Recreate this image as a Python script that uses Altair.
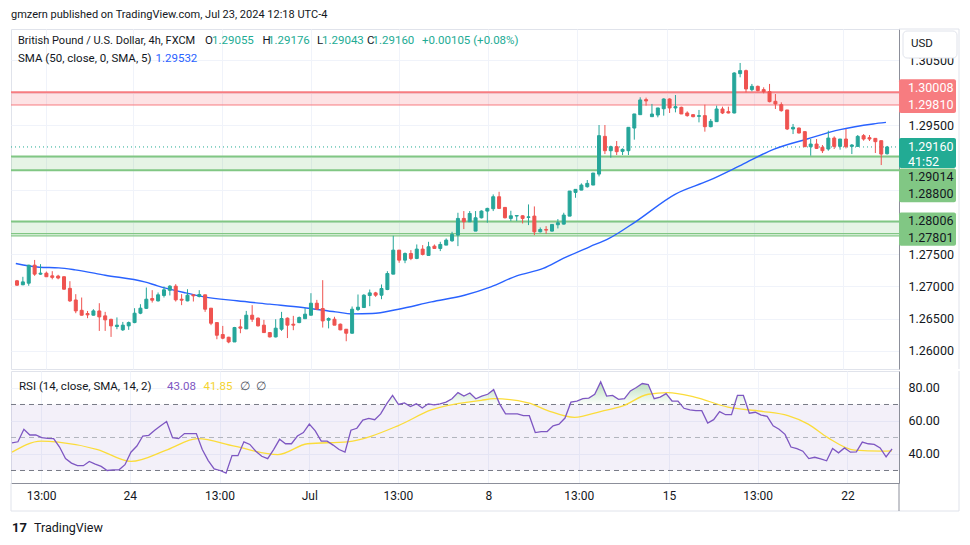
import altair as alt
import pandas as pd

# ---------------- data ----------------
OPEN = [1.27087, 1.27025, 1.27050, 1.27329, 1.27190, 1.27205, 1.27164, 1.27160, 1.27150, 1.26970,
        1.26790, 1.26630, 1.26580, 1.26554, 1.26620, 1.26544, 1.26490, 1.26379, 1.26327, 1.26389,
        1.26440, 1.26585, 1.26660, 1.26812, 1.26776, 1.26860, 1.26940, 1.27004, 1.26802, 1.26776,
        1.26870, 1.26844, 1.26870, 1.26663, 1.26440, 1.26255, 1.26213, 1.26140, 1.26373, 1.26342,
        1.26554, 1.26508, 1.26400, 1.26285, 1.26218, 1.26337, 1.26508, 1.26415, 1.26440, 1.26500,
        1.26554, 1.26740, 1.26658, 1.26477, 1.26492, 1.26415, 1.26337, 1.26275, 1.26642, 1.26673,
        1.26859, 1.26900, 1.26864, 1.26952, 1.27190, 1.27562, 1.27407, 1.27510, 1.27433, 1.27578,
        1.27480, 1.27624, 1.27588, 1.27640, 1.27707, 1.27795, 1.28053, 1.28001, 1.27857, 1.28063,
        1.28167, 1.28203, 1.28389, 1.28224, 1.28053, 1.28090, 1.28094, 1.28068, 1.28089, 1.27846,
        1.27882, 1.27857, 1.27955, 1.27965, 1.28089, 1.28456, 1.28492, 1.28544, 1.28570, 1.28740,
        1.29324, 1.29102, 1.29164, 1.29092, 1.29102, 1.29453, 1.29660, 1.29893, 1.29629, 1.29655,
        1.29752, 1.29903, 1.29764, 1.29774, 1.29686, 1.29660, 1.29634, 1.29645, 1.29474, 1.29552,
        1.29748, 1.29707, 1.29686, 1.30296, 1.30342, 1.30048, 1.30099, 1.30048, 1.30017, 1.29867,
        1.29815, 1.29733, 1.29438, 1.29453, 1.29397, 1.29164, 1.29205, 1.29154, 1.29128, 1.29298,
        1.29169, 1.29283, 1.29169, 1.29169, 1.29335, 1.29304, 1.29293, 1.29257, 1.29055]
HIGH = [1.27100, 1.27149, 1.27335, 1.27410, 1.27345, 1.27230, 1.27236, 1.27180, 1.27155, 1.27081,
        1.26880, 1.26828, 1.26620, 1.26647, 1.26740, 1.26606, 1.26500, 1.26520, 1.26450, 1.26456,
        1.26663, 1.26725, 1.26983, 1.26942, 1.26906, 1.26999, 1.27020, 1.27035, 1.26880, 1.26957,
        1.26875, 1.26942, 1.26870, 1.26663, 1.26440, 1.26388, 1.26220, 1.26373, 1.26492, 1.26621,
        1.26710, 1.26520, 1.26482, 1.26290, 1.26492, 1.26606, 1.26520, 1.26544, 1.26534, 1.26663,
        1.26895, 1.26792, 1.27097, 1.26520, 1.26530, 1.26425, 1.26340, 1.26689, 1.26875, 1.26880,
        1.26952, 1.26916, 1.27030, 1.27236, 1.27784, 1.27562, 1.27526, 1.27562, 1.27650, 1.27640,
        1.27691, 1.27650, 1.27691, 1.27743, 1.27846, 1.28141, 1.28167, 1.28167, 1.28167, 1.28178,
        1.28219, 1.28425, 1.28466, 1.28224, 1.28172, 1.28100, 1.28100, 1.28270, 1.28239, 1.27913,
        1.27934, 1.27960, 1.28043, 1.28141, 1.28477, 1.28503, 1.28596, 1.28648, 1.28756, 1.29500,
        1.29500, 1.29180, 1.29252, 1.29138, 1.29464, 1.29671, 1.29929, 1.29924, 1.29826, 1.29764,
        1.29913, 1.29913, 1.29965, 1.29784, 1.29712, 1.29665, 1.29733, 1.29815, 1.29593, 1.29800,
        1.29784, 1.29784, 1.30317, 1.30461, 1.30358, 1.30136, 1.30110, 1.30084, 1.30136, 1.29980,
        1.29851, 1.29733, 1.29516, 1.29460, 1.29400, 1.29283, 1.29283, 1.29190, 1.29412, 1.29324,
        1.29283, 1.29438, 1.29205, 1.29345, 1.29360, 1.29345, 1.29293, 1.29257, 1.29176]
LOW = [1.27010, 1.27020, 1.27010, 1.27164, 1.27180, 1.27150, 1.27110, 1.27110, 1.26950, 1.26760,
       1.26585, 1.26550, 1.26508, 1.26550, 1.26311, 1.26311, 1.26218, 1.26337, 1.26310, 1.26327,
       1.26430, 1.26570, 1.26650, 1.26750, 1.26766, 1.26828, 1.26860, 1.26766, 1.26710, 1.26770,
       1.26766, 1.26830, 1.26606, 1.26400, 1.26182, 1.26182, 1.26120, 1.26140, 1.26275, 1.26340,
       1.26450, 1.26380, 1.26280, 1.26210, 1.26210, 1.26311, 1.26200, 1.26322, 1.26430, 1.26500,
       1.26550, 1.26640, 1.26363, 1.26350, 1.26400, 1.26322, 1.26151, 1.26270, 1.26620, 1.26670,
       1.26694, 1.26838, 1.26802, 1.26942, 1.27190, 1.27366, 1.27360, 1.27407, 1.27422, 1.27480,
       1.27480, 1.27588, 1.27547, 1.27640, 1.27691, 1.27624, 1.27888, 1.28000, 1.27857, 1.28053,
       1.27987, 1.28167, 1.28198, 1.28053, 1.28012, 1.28012, 1.27975, 1.27950, 1.27795, 1.27836,
       1.27815, 1.27850, 1.27898, 1.27960, 1.28089, 1.28373, 1.28490, 1.28530, 1.28570, 1.28704,
       1.29050, 1.28994, 1.29035, 1.29035, 1.29035, 1.29273, 1.29660, 1.29800, 1.29629, 1.29619,
       1.29645, 1.29686, 1.29696, 1.29670, 1.29629, 1.29619, 1.29541, 1.29397, 1.29464, 1.29550,
       1.29670, 1.29680, 1.29680, 1.30239, 1.30006, 1.30022, 1.30022, 1.29990, 1.29851, 1.29748,
       1.29707, 1.29422, 1.29360, 1.29370, 1.29160, 1.29025, 1.29128, 1.29066, 1.29102, 1.29128,
       1.29118, 1.29138, 1.29050, 1.29164, 1.29257, 1.29252, 1.29066, 1.28880, 1.29043]
CLOSE = [1.27019, 1.27070, 1.27329, 1.27190, 1.27205, 1.27150, 1.27140, 1.27130, 1.26957, 1.26776,
         1.26621, 1.26554, 1.26560, 1.26621, 1.26528, 1.26482, 1.26389, 1.26400, 1.26400, 1.26440,
         1.26585, 1.26663, 1.26802, 1.26787, 1.26870, 1.26947, 1.27004, 1.26792, 1.26787, 1.26864,
         1.26854, 1.26875, 1.26647, 1.26430, 1.26244, 1.26198, 1.26140, 1.26363, 1.26353, 1.26554,
         1.26492, 1.26389, 1.26285, 1.26218, 1.26353, 1.26503, 1.26400, 1.26400, 1.26518, 1.26570,
         1.26740, 1.26647, 1.26466, 1.26503, 1.26400, 1.26327, 1.26275, 1.26647, 1.26678, 1.26864,
         1.26900, 1.26864, 1.26968, 1.27200, 1.27562, 1.27407, 1.27510, 1.27433, 1.27578, 1.27495,
         1.27614, 1.27588, 1.27650, 1.27717, 1.27805, 1.28053, 1.28001, 1.28130, 1.28063, 1.28167,
         1.28208, 1.28389, 1.28208, 1.28063, 1.28094, 1.28098, 1.28053, 1.28078, 1.27846, 1.27882,
         1.27872, 1.27960, 1.27986, 1.28105, 1.28477, 1.28503, 1.28570, 1.28596, 1.28756, 1.29335,
         1.29102, 1.29164, 1.29087, 1.29123, 1.29464, 1.29671, 1.29888, 1.29873, 1.29670, 1.29764,
         1.29903, 1.29764, 1.29784, 1.29671, 1.29645, 1.29629, 1.29645, 1.29474, 1.29557, 1.29748,
         1.29686, 1.29686, 1.30306, 1.30342, 1.30058, 1.30099, 1.30032, 1.30017, 1.29862, 1.29826,
         1.29722, 1.29438, 1.29464, 1.29376, 1.29164, 1.29205, 1.29138, 1.29102, 1.29298, 1.29169,
         1.29283, 1.29164, 1.29190, 1.29324, 1.29283, 1.29283, 1.29242, 1.29050, 1.29160]

SMA_IDX = [0.8, 4.8, 8.1, 10.9, 16, 22.7, 24.9, 29.4, 32.8, 38.4, 44, 49.6, 55.2, 58, 61.4, 65.9,
           71.5, 77.1, 81.6, 86, 90.5, 93.9, 98.4, 101.7, 106.2, 113, 118.6, 124.2, 129.8, 135.4,
           141, 146.6, 148.8]
SMA = [1.27355, 1.27298, 1.27288, 1.27257, 1.27174, 1.27071, 1.27009, 1.26906, 1.26839, 1.26777,
       1.26725, 1.26673, 1.26606, 1.26575, 1.26580, 1.26647, 1.26761, 1.26864, 1.26994, 1.27164,
       1.27278, 1.27433, 1.27614, 1.27743, 1.28001, 1.28430, 1.28637, 1.28880, 1.29128, 1.29283,
       1.29428, 1.29516, 1.29540]

RSI = [46.8, 47.4, 55.0, 51.5, 51.5, 49.9, 49.5, 49.3, 44.2, 37.2,
       34.5, 32.9, 32.9, 35.5, 33.9, 32.5, 30.0, 30.4, 30.4, 33.5,
       41.1, 44.8, 50.9, 51.3, 54.4, 57.1, 59.7, 49.9, 49.3, 52.4,
       52.4, 52.4, 42.7, 36.0, 31.0, 30.0, 28.4, 39.0, 39.0, 47.4,
       45.8, 41.7, 38.6, 37.2, 42.7, 48.9, 46.2, 46.2, 50.9, 53.0,
       58.1, 54.0, 47.8, 47.8, 45.4, 42.7, 41.1, 54.4, 55.6, 60.6,
       61.6, 60.8, 64.3, 70.4, 75.5, 70.0, 71.0, 68.8, 70.4, 67.9,
       70.4, 69.8, 70.4, 71.4, 73.5, 77.2, 75.1, 77.0, 73.5, 75.1,
       76.2, 79.0, 70.4, 64.3, 64.3, 64.3, 63.2, 63.2, 53.0, 53.6,
       53.6, 57.1, 58.1, 61.8, 71.4, 72.1, 73.5, 73.9, 76.2, 83.7,
       75.1, 75.5, 73.1, 73.5, 78.2, 80.3, 82.7, 82.1, 73.5, 74.5,
       76.6, 72.1, 72.1, 67.7, 66.7, 66.3, 66.3, 58.7, 60.8, 65.7,
       63.8, 63.8, 75.5, 75.5, 64.7, 65.3, 63.6, 62.8, 57.1, 55.0,
       51.9, 44.2, 43.3, 41.7, 37.2, 38.0, 37.0, 35.9, 43.3, 40.7,
       43.7, 41.1, 41.3, 47.2, 46.2, 45.8, 43.7, 38.2, 43.08]

RSI_MA_IDX = [1, 5.9, 8.8, 15.4, 21, 27.2, 32.2, 38.4, 45.7, 50.7, 57.4, 65.9, 71.5, 79.9, 82.1,
              87.8, 91.1, 95.6, 100.1, 103.5, 108, 111.3, 115.8, 121.4, 127, 131.5, 134.9, 138.2,
              142.7, 147.2, 149]
RSI_MA = [41.1, 47.8, 47.2, 42.7, 35.5, 42.7, 49.3, 44.8, 39.6, 46.2, 47.4, 57.1, 66.7, 72.5, 73.5,
          71.0, 66.3, 62.2, 65.9, 68.8, 76.2, 77.2, 74.5, 68.4, 65.9, 63.2, 58.1, 49.9,
          42.3, 41.7, 41.85]

ZONE_LO = [1.29810, 1.28800, 1.27801]
ZONE_HI = [1.30008, 1.29014, 1.28006]
ZONE_KIND = ["red", "green", "green"]
EXTRA_LINES = [1.27818, 1.27784]
LAST_PRICE = 1.29160

TICK_POS = [5.9, 20.8, 35.9, 51.0, 65.9, 81.1, 96.3, 111.5, 126.4, 141.5]
TICK_LABELS = ["13:00", "24", "13:00", "Jul", "13:00", "8", "13:00", "15", "13:00", "22"]
PRICE_TICKS = [1.26, 1.265, 1.27, 1.275, 1.28, 1.285, 1.29, 1.295, 1.30, 1.305]
RSI_TICKS = [40, 60, 80]
RSI_BANDS = [30, 50, 70]

# ---------------- layout / style ----------------
W = 888
H_MAIN = 340
H_RSI = 112
AX_W = 60
X_DOM = [0.832, 150.17]
Y_DOM = [1.25721, 1.30987]
R_DOM = [22.42, 90.3]
PPU = H_MAIN / (Y_DOM[1] - Y_DOM[0])

FONT = "Roboto"
UP = "#26a69a"
DOWN = "#ef5350"
GRID = "#f0f3fa"
FRAME = "#e0e3eb"
AXIS_LINE = "#8c8f9a"
TEXT = "#131722"
VAL = "#22ab94"
RED_LINE = "#f77c80"
GREEN_LINE = "#81c784"


def shift(p, px):
    return p - px / PPU


one = pd.DataFrame({"a": [0]})


def txt(x, y, s, color=TEXT, size=11.5, align="left", weight="normal", font=FONT):
    return alt.Chart(one).mark_text(
        align=align, baseline="middle", fontSize=size, font=font, fontWeight=weight, color=color
    ).encode(x=alt.value(x), y=alt.value(y), text=alt.value(s))


def hline(x1, x2, y, color=FRAME, w=1):
    return alt.Chart(one).mark_rule(color=color, strokeWidth=w).encode(
        x=alt.value(x1), x2=alt.value(x2), y=alt.value(y))


def vline(x, y1, y2, color=FRAME, w=1):
    return alt.Chart(one).mark_rule(color=color, strokeWidth=w).encode(
        x=alt.value(x), y=alt.value(y1), y2=alt.value(y2))


xs = alt.Scale(domain=X_DOM, nice=False, zero=False)
x_main_axis = alt.Axis(values=TICK_POS, labels=False, ticks=False, domain=False, grid=True,
                       gridColor=GRID, title=None)
ys = alt.Scale(domain=Y_DOM, nice=False, zero=False)
y_axis = alt.Axis(orient="right", values=PRICE_TICKS, format=".5f", grid=True, gridColor=GRID,
                  ticks=False, domain=True, domainColor=AXIS_LINE, labelPadding=9,
                  labelFontSize=12.5, labelColor=TEXT, labelFont=FONT, title=None)


def XM(f):
    return alt.X(f, type="quantitative", scale=xs, axis=x_main_axis)


def YM(f):
    return alt.Y(f, type="quantitative", scale=ys, axis=y_axis)


candles = pd.DataFrame({"i": list(range(1, len(OPEN) + 1)), "o": OPEN, "h": HIGH,
                        "l": LOW, "c": CLOSE})
candles["col"] = [UP if c >= o else DOWN for o, c in zip(OPEN, CLOSE)]

zones = pd.DataFrame({"lo": ZONE_LO, "hi": ZONE_HI})
zones["col"] = ["#f23645" if k == "red" else "#4caf50" for k in ZONE_KIND]
zone_rect = alt.Chart(zones).mark_rect(opacity=0.14).encode(
    x=alt.value(0), x2=alt.value(W), y=YM("lo"), y2="hi", color=alt.Color("col:N", scale=None))

lp = [ZONE_HI[0], ZONE_LO[0], ZONE_HI[1], ZONE_LO[1], ZONE_HI[2]] + EXTRA_LINES
lw = [2, 1, 2, 2, 2, 1.2, 1.2]
lc = [RED_LINE, RED_LINE, GREEN_LINE, GREEN_LINE, GREEN_LINE, GREEN_LINE, GREEN_LINE]
zl = pd.DataFrame({"p": lp, "w": lw, "col": lc})
zone_lines = alt.Chart(zl).mark_rule().encode(
    x=alt.value(0), x2=alt.value(W), y=YM("p"),
    color=alt.Color("col:N", scale=None), strokeWidth=alt.StrokeWidth("w:Q", scale=None))

last_line = alt.Chart(pd.DataFrame({"p": [LAST_PRICE]})).mark_rule(
    color=VAL, strokeDash=[1, 3], strokeWidth=1).encode(x=alt.value(0), x2=alt.value(W), y=YM("p"))

sma_line = alt.Chart(pd.DataFrame({"i": SMA_IDX, "v": SMA})).mark_line(
    color="#2962ff", strokeWidth=1.4, interpolate="monotone", clip=True).encode(x=XM("i"), y=YM("v"))

wicks = alt.Chart(candles).mark_rule(strokeWidth=1).encode(
    x=XM("i"), y=YM("l"), y2="h", color=alt.Color("col:N", scale=None))
bodies = alt.Chart(candles).mark_bar(width=3, strokeWidth=1).encode(
    x=XM("i"), y=YM("o"), y2="c", color=alt.Color("col:N", scale=None),
    stroke=alt.Stroke("col:N", scale=None))

# price label boxes on the right axis
boxes = pd.DataFrame({
    "top": [shift(ZONE_HI[0], -13), shift(LAST_PRICE, -9), shift(ZONE_HI[1], 12), shift(ZONE_HI[2], -9)],
    "bot": [shift(ZONE_LO[0], 8), shift(LAST_PRICE, 21), shift(ZONE_LO[1], 32), shift(ZONE_LO[2], 11)],
    "col": [RED_LINE, VAL, GREEN_LINE, GREEN_LINE],
})
box_rect = alt.Chart(boxes).mark_rect(cornerRadius=2).encode(
    x=alt.value(W), x2=alt.value(W + 57), y=YM("top"), y2="bot", color=alt.Color("col:N", scale=None))
blabels = pd.DataFrame({
    "p": [shift(ZONE_HI[0], -4), ZONE_LO[0], LAST_PRICE, shift(LAST_PRICE, 15),
          shift(ZONE_HI[1], 21), shift(ZONE_LO[1], 24), ZONE_HI[2], shift(ZONE_LO[2], 3)],
    "t": [f"{ZONE_HI[0]:.5f}", f"{ZONE_LO[0]:.5f}", f"{LAST_PRICE:.5f}", "41:52",
          f"{ZONE_HI[1]:.5f}", f"{ZONE_LO[1]:.5f}", f"{ZONE_HI[2]:.5f}", f"{ZONE_LO[2]:.5f}"],
    "col": ["white", "white", "white", "white", TEXT, TEXT, TEXT, TEXT],
})
box_text = alt.Chart(blabels).mark_text(align="left", baseline="middle", fontSize=12.5, font=FONT).encode(
    x=alt.value(W + 9), y=YM("p"), text="t:N", color=alt.Color("col:N", scale=None))

usd_box = alt.Chart(one).mark_rect(fill="white", stroke=FRAME, strokeWidth=1, cornerRadius=4).encode(
    x=alt.value(W + 4), x2=alt.value(W + 58), y=alt.value(2), y2=alt.value(29))

main_texts = [
    txt(0, -14, "gmzern published on TradingView.com, Jul 23, 2024 12:18 UTC-4", size=11),
    txt(7, 12, "British Pound / U.S. Dollar, 4h, FXCM", size=11),
    txt(194, 12, "O"), txt(201, 12, "1.29055", VAL),
    txt(251.5, 12, "H"), txt(257, 12, "1.29176", VAL),
    txt(306, 12, "L"), txt(311, 12, "1.29043", VAL),
    txt(356, 12, "C"), txt(361.5, 12, "1.29160", VAL),
    txt(411, 12, "+0.00105 (+0.08%)", VAL),
    txt(7, 29.5, "SMA (50, close, 0, SMA, 5)"), txt(144.5, 29.5, "1.29532", "#2962ff"),
    txt(W + 12, 15, "USD", size=11.5),
]
main_frame = [hline(W, W + AX_W, 0), vline(W + AX_W, 0, H_MAIN)]

main = alt.layer(zone_rect, zone_lines, last_line, sma_line, wicks, bodies, box_rect, box_text,
                 usd_box, *main_frame, *main_texts).properties(width=W, height=H_MAIN)

# ---------------- RSI pane ----------------
label_expr = "[" + ",".join(f"'{s}'" for s in TICK_LABELS) + "][indexof([" + \
    ",".join(str(v) for v in TICK_POS) + "], datum.value)]"
xr_axis = alt.Axis(values=TICK_POS, labelExpr=label_expr, grid=True, gridColor=GRID, ticks=False,
                   domain=True, domainColor=AXIS_LINE, labelPadding=7, labelFontSize=12,
                   labelColor=TEXT, labelFont=FONT, labelFlush=False, title=None)
rs = alt.Scale(domain=R_DOM, nice=False, zero=False)
r_axis = alt.Axis(orient="right", values=RSI_TICKS, format=".2f", grid=True, gridColor=GRID,
                  ticks=False, domain=True, domainColor=AXIS_LINE, labelPadding=9,
                  labelFontSize=12.5, labelColor=TEXT, labelFont=FONT, title=None)


def XR(f):
    return alt.X(f, type="quantitative", scale=xs, axis=xr_axis)


def YR(f):
    return alt.Y(f, type="quantitative", scale=rs, axis=r_axis)


band = alt.Chart(pd.DataFrame({"lo": [RSI_BANDS[0]], "hi": [RSI_BANDS[2]]})).mark_rect(
    color="#7e57c2", opacity=0.09).encode(x=alt.value(0), x2=alt.value(W), y=YR("lo"), y2="hi")
outer = alt.Chart(pd.DataFrame({"v": [RSI_BANDS[0], RSI_BANDS[2]]})).mark_rule(
    color="#787b86", strokeDash=[5, 4], strokeWidth=1).encode(x=alt.value(0), x2=alt.value(W), y=YR("v"))
mid = alt.Chart(pd.DataFrame({"v": [RSI_BANDS[1]]})).mark_rule(
    color="#b2b5be", strokeDash=[5, 4], strokeWidth=1).encode(x=alt.value(0), x2=alt.value(W), y=YR("v"))

rsi_df = pd.DataFrame({"i": list(range(1, len(RSI) + 1)), "r": RSI})
rsi_df["top"] = rsi_df["r"].clip(lower=RSI_BANDS[2])
rsi_df["base"] = RSI_BANDS[2]
ob_fill = alt.Chart(rsi_df).mark_area(
    color=alt.Gradient(gradient="linear", x1=0, x2=0, y1=0, y2=1,
                       stops=[alt.GradientStop(color="rgba(76,175,80,0.38)", offset=0),
                              alt.GradientStop(color="rgba(76,175,80,0.02)", offset=1)])
).encode(x=XR("i"), y=YR("top"), y2="base")
ma_line = alt.Chart(pd.DataFrame({"i": RSI_MA_IDX, "v": RSI_MA})).mark_line(
    color="#fbdc3a", strokeWidth=1.3, interpolate="monotone").encode(x=XR("i"), y=YR("v"))
rsi_line = alt.Chart(rsi_df).mark_line(color="#7e57c2", strokeWidth=1.3).encode(x=XR("i"), y=YR("r"))

rsi_texts = [
    txt(8, 15.5, "RSI (14, close, SMA, 14, 2)"),
    txt(156, 15.5, "43.08", "#7e57c2"),
    txt(192.5, 15.5, "41.85", "#f5d42f"),
    txt(229, 15.5, "\u2205", "#50535e"),
    txt(245, 15.5, "\u2205", "#50535e"),
    txt(1, H_RSI + 45, "17", TEXT, size=13, weight="bold"),
    txt(23, H_RSI + 45, "TradingView", TEXT, size=12.5),
]
BOT = H_RSI + 28
rsi_frame = [
    vline(W + AX_W, 0, BOT), hline(0, W + AX_W, BOT), vline(0, H_RSI, BOT),
    vline(W, H_RSI, BOT, AXIS_LINE),
]

rsi = alt.layer(band, outer, mid, ob_fill, ma_line, rsi_line, *rsi_frame, *rsi_texts).properties(
    width=W, height=H_RSI)

chart = alt.vconcat(main, rsi, spacing=0).properties(
    padding={"left": 0, "top": 0, "right": 0, "bottom": 0}
).configure(font=FONT).configure_view(stroke=FRAME, strokeWidth=1)

chart.save("out.html", embed_options={"renderer": "svg", "actions": False})
